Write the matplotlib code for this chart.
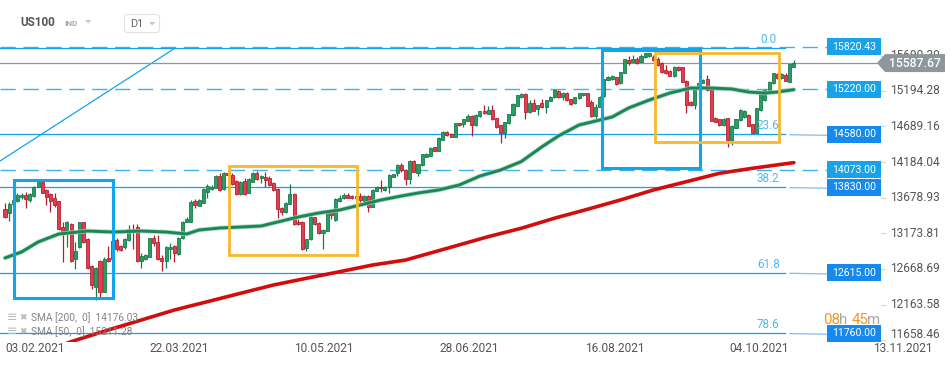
import matplotlib
matplotlib.use("Agg")
import matplotlib.pyplot as plt
import matplotlib.transforms as mtransforms
from matplotlib.patches import Rectangle, Polygon, FancyBboxPatch

plt.rcParams['font.family'] = ['Roboto', 'DejaVu Sans']
plt.rcParams['lines.scale_dashes'] = False

# daily candles US100, 03.02.2021 -> mid Oct 2021
opens = [13514,13457,13585,13637,13684,13717,13646,13707,13835,13896,
         13788,13726,13670,13632,13258,13164,13306,12814,12975,13334,
         13088,12710,12417,12781,12346,12828,12805,13079,12994,12975,
         13079,13235,13268,12786,12805,12842,13102,13050,12828,12786,
         12946,12994,12880,13102,13339,13339,13632,13563,13610,13766,
         13800,13823,13988,13800,14022,14003,13918,13738,13918,13752,
         13908,14026,13955,13979,13965,13885,13799,13530,13469,13596,
         13738,13336,13336,12972,13090,13398,13317,13185,13209,13502,
         13360,13634,13672,13719,13705,13672,13700,13636,13703,13551,
         13778,13835,13788,13825,13977,14024,14142,14071,13939,14204,
         14033,14142,14260,14270,14393,14345,14497,14605,14582,14544,
         14733,14723,14766,14837,14709,14837,14908,14865,14922,14804,
         14709,14601,14733,14846,14983,15102,15149,14889,15026,14931,
         15026,14969,15054,15102,15191,15102,15168,15078,15017,15087,
         15130,15158,15030,14840,14969,15115,15350,15362,15386,15300,
         15452,15631,15608,15641,15608,15669,15688,15670,15641,15594,
         15490,15475,15405,15537,15527,15338,15040,14993,15240,15310,
         15362,15206,14814,14795,14710,14804,14497,14672,14781,14818,
         14851,14724,14601,14922,15064,15206,15300,15428,15372,15419,
         15324,15537]
highs = [13599,13622,13660,13741,13750,13764,13750,13844,13906,13920,
         13797,13741,13741,13637,13339,13348,13325,13055,13339,13339,
         13102,12720,12701,12795,12833,12994,13079,13102,13008,13102,
         13292,13301,13301,12899,12876,13112,13150,13145,12866,12994,
         13032,13003,13117,13353,13400,13646,13660,13660,13810,13870,
         13860,14003,14026,14040,14050,14030,13925,13920,13960,13960,
         14045,14060,14000,14045,13985,13900,13810,13540,13620,13870,
         13748,13374,13345,13100,13420,13410,13330,13240,13510,13520,
         13670,13710,13745,13740,13720,13720,13740,13710,13710,13800,
         13845,13929,13850,14010,14020,14150,14170,14080,14215,14220,
         14160,14300,14310,14400,14400,14540,14620,14620,14590,14740,
         14740,14800,14870,14845,14860,14915,14990,14980,14995,14810,
         14715,14755,14870,15015,15140,15160,15160,15070,15080,15000,
         15080,15070,15120,15215,15200,15175,15180,15085,15110,15165,
         15165,15165,15060,15010,15120,15365,15405,15420,15395,15465,
         15650,15690,15700,15680,15710,15735,15735,15700,15680,15600,
         15560,15485,15545,15545,15535,15345,15050,15250,15330,15355,
         15419,15215,14820,14800,14810,14810,14705,14800,14940,14920,
         14860,14730,14955,15165,15215,15330,15450,15445,15440,15440,
         15580,15625]
lows = [13386,13348,13570,13622,13655,13537,13622,13693,13826,13741,
        13575,13481,13551,13221,12772,12984,12772,12672,12961,13041,
        12668,12379,12228,12275,12337,12772,12795,12928,12928,12946,
        13069,12956,12772,12687,12795,12833,12994,12795,12635,12677,
        12809,12772,12866,13093,13329,13329,13528,13555,13600,13681,
        13790,13818,13780,13790,13980,13860,13715,13720,13715,13740,
        13900,13930,13880,13830,13845,13775,13388,13440,13460,13590,
        13290,13290,12940,12916,13080,13290,13165,12950,13200,13380,
        13350,13620,13660,13670,13660,13650,13620,13615,13480,13540,
        13770,13764,13780,13740,13970,13990,14048,13859,13870,14040,
        13986,14135,14250,14265,14335,14340,14490,14560,14535,14535,
        14700,14680,14760,14555,14700,14830,14860,14860,14780,14665,
        14460,14530,14725,14840,14975,15095,14800,14880,14905,14850,
        14950,14880,15045,15095,15095,15060,15050,14990,15010,15080,
        15125,14975,14830,14770,14960,15110,15345,15350,15280,15290,
        15445,15560,15600,15575,15600,15660,15680,15620,15550,15450,
        15430,15400,15395,15480,15315,14875,14985,14940,15200,15305,
        15190,14760,14750,14700,14700,14402,14420,14665,14770,14810,
        14690,14590,14590,14915,15055,15195,15290,15360,15365,15330,
        15315,15530]
closes = [13410,13585,13646,13717,13717,13660,13731,13835,13896,13750,
          13693,13632,13575,13230,13164,13334,12786,12923,13334,13055,
          12677,12436,12677,12337,12810,12786,13065,12946,12937,13093,
          13230,13197,12786,12852,12861,13102,13041,12805,12786,12975,
          12984,12890,13102,13339,13372,13622,13575,13640,13799,13847,
          13833,13984,13790,14022,14003,13870,13729,13908,13729,13941,
          14026,13941,13988,13932,13856,13785,13516,13469,13610,13729,
          13303,13303,12949,13090,13398,13303,13175,13223,13492,13435,
          13658,13672,13719,13681,13672,13700,13646,13703,13551,13788,
          13835,13811,13835,14000,14010,14142,14071,13939,14204,14048,
          14152,14293,14298,14388,14345,14530,14605,14567,14544,14733,
          14705,14794,14837,14714,14851,14908,14875,14922,14790,14676,
          14601,14747,14865,15007,15135,15149,14889,15026,14913,14993,
          14960,15064,15111,15206,15102,15168,15064,15007,15102,15158,
          15158,14983,14837,14960,15111,15357,15395,15409,15286,15457,
          15641,15594,15641,15584,15688,15726,15726,15630,15560,15457,
          15442,15409,15537,15490,15324,14993,14993,15244,15300,15348,
          15206,14771,14757,14710,14795,14497,14696,14790,14922,14913,
          14696,14601,14946,15159,15206,15324,15442,15372,15428,15338,
          15575,15587.67]

# moving averages (bar index, value)
sma50_bar = [0, 4, 8, 13, 20, 26, 33, 39, 44, 47, 52, 57, 62, 67, 71, 76, 81, 86, 91, 96,
             100, 105, 110, 115, 120, 125, 130, 134, 139, 144, 147, 151, 156, 161, 166,
             171, 176, 180, 184, 187, 191]
sma50_val = [12824, 12909, 13050, 13164, 13206, 13192, 13206, 13192, 13164, 13221, 13249,
             13263, 13277, 13348, 13405, 13462, 13504, 13575, 13646, 13703, 13745, 13788,
             13859, 13986, 14071, 14191, 14400, 14554, 14710, 14780, 14823, 14951, 15064,
             15163, 15234, 15234, 15220, 15177, 15163, 15177, 15211]
sma200_bar = [8, 16, 25, 33, 41, 49, 57, 65, 73, 81, 89, 97, 105, 117, 125, 133, 141,
              149, 157, 165, 173, 181, 191]
sma200_val = [11460, 11637, 11803, 11944, 12086, 12204, 12323, 12441, 12536, 12629, 12724,
              12795, 12927, 13126, 13245, 13387, 13514, 13646, 13788, 13906, 14025, 14096,
              14176]

dashed_levels = [15820.43, 15220.00, 14073.00]
fib_names = ['0.0', '23.6', '38.2', '61.8', '78.6']
fib_levels = [15801, 14580.00, 13830.00, 12615.00, 11760.00]
fib_line = [(-1.2, 14199), (41.2, 15801)]
last_price = 15587.67
yticks = [15690.39, 15194.28, 14689.16, 14184.04, 13678.93, 13173.81, 12668.69,
          12163.58, 11658.46]
date_labels = ['03.02.2021', '22.03.2021', '10.05.2021', '28.06.2021', '16.08.2021',
               '04.10.2021', '13.11.2021']
date_bars = [0, 35, 70, 105.3, 140.4, 175.5, 210.2]
# (bar0, price0, bar1, price1)
blue_boxes = [(2.1, 12252, 26.1, 13934), (144.5, 14093, 168.3, 15780)]
yellow_boxes = [(54.2, 12873, 85.3, 14135), (157.5, 14471, 187.4, 15733)]
sma_legend = [('SMA [200,  0]  14176.03'), ('SMA [50,  0]  15211.28')]

W, H = 950, 365
fig = plt.figure(figsize=(W / 100, H / 100), dpi=100)
ax = fig.add_axes([0, 23 / H, 885 / W, 342 / H])
ax.set_xlim(-5 / 4.13, 880 / 4.13)
ax.set_ylim(11632.46, 16482.02)
ax.axis('off')

# pixel transform (x right, y down from top-left)
pix = mtransforms.Affine2D().scale(1, -1).translate(0, H) + \
    mtransforms.Affine2D().scale(1 / 100) + fig.dpi_scale_trans
tr_ax = mtransforms.blended_transform_factory(ax.transAxes, ax.transData)
tr_px = mtransforms.blended_transform_factory(pix, ax.transData)
AX_W = 885.0
ppx = (ax.get_ylim()[1] - ax.get_ylim()[0]) / 342.0   # price per pixel

light_blue = '#3fb3ee'
fib_blue = '#10a3ec'
box_light = '#17a2ea'
box_dark = '#1689ee'

# horizontal dashed levels
for lv in dashed_levels:
    ax.plot([0, 827 / AX_W], [lv, lv], transform=tr_ax, color=light_blue, lw=1.0,
            dashes=(11, 5.5), zorder=1)

# fibonacci lines
for name, lv in zip(fib_names, fib_levels):
    ax.plot([0, 785 / AX_W], [lv, lv], transform=tr_ax, color=fib_blue, lw=0.9, zorder=1)
    if name != '0.0':
        ax.plot([790 / AX_W, 827 / AX_W], [lv - 0.6 * ppx, lv - 1.2 * ppx], transform=tr_ax,
                color='#3a8fe0', lw=0.9, alpha=0.6, zorder=1)
    ax.annotate(name, xy=(184.8, lv), xytext=(0, 8.5), textcoords='offset pixels',
                ha='center', va='center', fontsize=8.4, color='#4bb9f0', zorder=5)
ax.plot([p[0] for p in fib_line], [p[1] for p in fib_line], color=fib_blue, lw=0.9, zorder=1)

# last price line
ax.plot([0, 877 / AX_W], [last_price, last_price], transform=tr_ax, color='#8d969c',
        lw=0.9, zorder=1)

# candles
for i, (o, h, l, c) in enumerate(zip(opens, highs, lows, closes)):
    up = c >= o
    fc = '#2a9d66' if up else '#e13e4e'
    ec = '#187a4a' if up else '#b3202f'
    ax.plot([i, i], [min(l, o, c), max(h, o, c)], color=ec, lw=0.9, zorder=2,
            solid_capstyle='butt')
    ax.add_patch(Rectangle((i - 0.37, min(o, c)), 0.74, max(abs(c - o), 12),
                           facecolor=fc, edgecolor=ec, lw=0.6, zorder=2.1))

# moving averages
ax.plot(sma50_bar, sma50_val, color='#9fd3b8', lw=3.3, alpha=0.8, zorder=3,
        solid_capstyle='round')
ax.plot(sma50_bar, sma50_val, color='#1b8656', lw=2.1, zorder=3.1, solid_capstyle='round')
ax.plot(sma200_bar, sma200_val, color='#d30d0d', lw=2.6, zorder=3.1, solid_capstyle='round')

# drawing boxes
for b0, p0, b1, p1 in blue_boxes:
    ax.add_patch(Rectangle((b0, p0), b1 - b0, p1 - p0, fill=False, edgecolor='#10a6ec',
                           lw=2.2, zorder=4))
for b0, p0, b1, p1 in yellow_boxes:
    ax.add_patch(Rectangle((b0, p0), b1 - b0, p1 - p0, fill=False, edgecolor='#f8b82c',
                           lw=2.0, zorder=4))

# right price boxes
bh = 17 * ppx
for lv in dashed_levels + fib_levels[1:]:
    col = box_light if lv in dashed_levels else box_dark
    ax.add_patch(Rectangle((827 / AX_W, lv - bh / 2), 54 / AX_W, bh, transform=tr_ax,
                           facecolor=col, edgecolor='none', zorder=6, clip_on=False))
    ax.text(854 / AX_W, lv, f'{lv:.2f}', transform=tr_ax, ha='center', va='center',
            fontsize=7.6, color='white', zorder=7, clip_on=False)

# y tick labels
for v in yticks:
    dy = 6 if v == yticks[-1] else 0
    ax.annotate(f'{v:.2f}', xy=(890, v), xycoords=tr_px, xytext=(0, dy),
                textcoords='offset pixels', ha='left', va='center', fontsize=8.6,
                color='#555555', annotation_clip=False, zorder=6)
    ax.plot([881, 885], [v, v], transform=tr_px, color='#d8d8d8', lw=0.8, clip_on=False)

# last price tag (covers part of the top tick label, as in the source)
tag = [(877, last_price), (885, last_price + 9 * ppx), (945, last_price + 9 * ppx),
       (945, last_price - 9 * ppx), (885, last_price - 9 * ppx)]
ax.add_patch(Polygon(tag, closed=True, transform=tr_px, facecolor='#8d979d',
                     edgecolor='none', zorder=8, clip_on=False))
ax.text(915, last_price, f'{last_price:.2f}', transform=tr_px, ha='center', va='center',
        fontsize=8.8, color='white', fontweight='medium', zorder=9, clip_on=False)

# date labels
tr_date = mtransforms.blended_transform_factory(ax.transData, pix)
for lab, b in zip(date_labels, date_bars):
    ax.text(b, 349, lab, transform=tr_date, ha='left', va='center', fontsize=8.6,
            color='#555555', clip_on=False)

# SMA legend (under the lines)
for k, txt in enumerate(sma_legend):
    y = 318 + 14 * k
    fig.text(7, y, '\u2261', transform=pix, fontsize=9, color='#b8b8b8', va='center',
             family='DejaVu Sans', zorder=0.5)
    fig.text(19, y, '\u2716', transform=pix, fontsize=6.5, color='#b8b8b8', va='center',
             family='DejaVu Sans', zorder=0.5)
    fig.text(31, y, txt, transform=pix, fontsize=7.3, color='#858585', va='center',
             zorder=0.5)

# countdown
for txt, x, col in [('08', 823, '#f7941d'), ('h', 839, '#a8a8a8'),
                    ('45', 851.5, '#f7941d'), ('m', 867.5, '#a8a8a8')]:
    fig.text(x, 320, txt, transform=pix, fontsize=10.8, color=col, va='center', ha='left')

# header
fig.text(20.5, 23, 'US100', transform=pix, fontsize=8.5, fontweight='bold',
         color='#555555', va='center')
fig.text(64, 24, 'IND', transform=pix, fontsize=5.8, fontweight='bold', color='#a0a8b0',
         va='center')
fig.patches.append(Polygon([(85, 20), (91.5, 20), (88.2, 23.5)], closed=True,
                           transform=pix, facecolor='#c8c8c8', edgecolor='none'))
fig.patches.append(FancyBboxPatch((124.5, 14.5), 35, 18, boxstyle='round,pad=0,rounding_size=3',
                                  transform=pix, facecolor='white', edgecolor='#e2e2e2',
                                  lw=0.8))
fig.text(130, 24, 'D1', transform=pix, fontsize=7.8, color='#666666', va='center')
fig.patches.append(Polygon([(149, 22), (155.5, 22), (152.2, 25.5)], closed=True,
                           transform=pix, facecolor='#c8c8c8', edgecolor='none'))

fig.savefig('out.png', dpi=100)
